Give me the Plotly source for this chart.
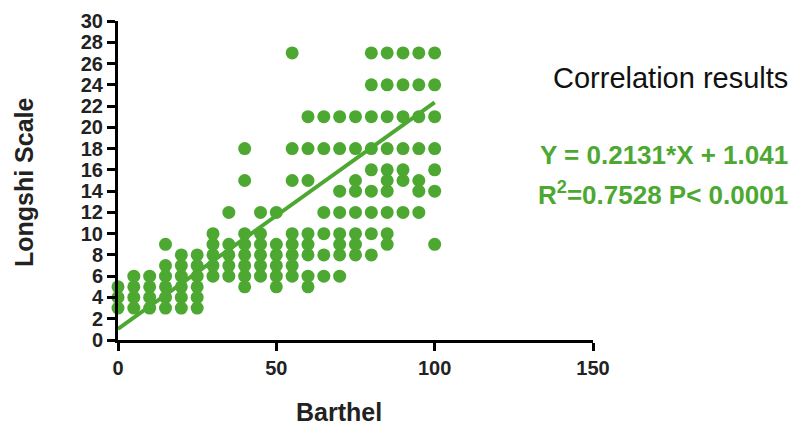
import plotly.graph_objects as go

# Barthel levels (x) and the Longshi Scale values observed at each level (y)
barthel_levels = [0, 5, 10, 15, 20, 25, 30, 35, 40, 45, 50,
                  55, 60, 65, 70, 75, 80, 85, 90, 95, 100]
longshi_by_level = [
    [3, 4, 5],
    [3, 4, 5, 6],
    [3, 4, 5, 6],
    [3, 4, 5, 6, 7, 9],
    [3, 4, 5, 6, 7, 8],
    [3, 4, 5, 6, 7, 8],
    [6, 7, 8, 9, 10],
    [6, 7, 8, 9, 12],
    [5, 6, 7, 8, 9, 10, 15, 18],
    [6, 7, 8, 9, 10, 12],
    [5, 6, 7, 8, 9, 12],
    [6, 7, 8, 9, 10, 15, 18, 27],
    [5, 6, 8, 9, 10, 15, 18, 21],
    [6, 8, 10, 12, 18, 21],
    [6, 8, 9, 10, 12, 14, 18, 21],
    [8, 9, 10, 12, 14, 15, 18, 21],
    [8, 10, 12, 14, 16, 18, 21, 24, 27],
    [9, 10, 12, 14, 15, 16, 18, 21, 24, 27],
    [12, 15, 16, 18, 21, 24, 27],
    [12, 14, 15, 18, 21, 24, 27],
    [9, 14, 16, 18, 21, 24, 27],
]

# regression results
slope = 0.2131
intercept = 1.041
r_squared = "0.7528"
p_text = "P< 0.0001"
fit_x = [0, 100]

x_ticks = [0, 50, 100, 150]
y_ticks = list(range(0, 31, 2))

barthel = []
longshi = []
for lvl, vals in zip(barthel_levels, longshi_by_level):
    for v in vals:
        barthel.append(lvl)
        longshi.append(v)

fit_y = [slope * x + intercept for x in fit_x]

GREEN = "#4DA832"
FONT = "Liberation Sans, Arial, sans-serif"

fig = go.Figure()
fig.add_trace(go.Scatter(
    x=barthel, y=longshi, mode="markers",
    marker=dict(color=GREEN, size=13, line=dict(width=0)),
    cliponaxis=False, showlegend=False,
))
fig.add_trace(go.Scatter(
    x=fit_x, y=fit_y, mode="lines",
    line=dict(color=GREEN, width=4),
    cliponaxis=False, showlegend=False,
))

axis_common = dict(
    showgrid=False, zeroline=False, showline=True, automargin=False,
    linecolor="black", linewidth=3,
    ticks="outside", ticklen=8, tickwidth=3, tickcolor="black",
    tickfont=dict(family=FONT, size=20, color="#222222", weight="bold"),
)
fig.update_xaxes(range=[0, 150], tickvals=x_ticks, **axis_common)
fig.update_yaxes(range=[0, 30], tickvals=y_ticks, **axis_common)

ann_common = dict(xref="paper", yref="paper", showarrow=False, yanchor="middle")
fig.add_annotation(text="<b>Barthel</b>", x=0.465, y=-0.225, xanchor="center",
                   font=dict(family=FONT, size=25, color="#222222"), **ann_common)
fig.add_annotation(text="<b>Longshi Scale</b>", x=-0.198, y=0.495, xanchor="center",
                   textangle=-90,
                   font=dict(family=FONT, size=25, color="#222222"), **ann_common)
fig.add_annotation(text="Correlation results", x=1.415, y=0.82, xanchor="right",
                   font=dict(family=FONT, size=29, color="#111111"), **ann_common)
fig.add_annotation(text=f"<b>Y = {slope}*X + {intercept}</b>", x=1.415, y=0.579,
                   xanchor="right",
                   font=dict(family=FONT, size=26, color=GREEN), **ann_common)
fig.add_annotation(text=f"<b>R<sup>2</sup>={r_squared} {p_text}</b>", x=1.415, y=0.46,
                   xanchor="right",
                   font=dict(family=FONT, size=26, color=GREEN), **ann_common)

# the page body adds an 8px offset; margins compensate so the plot area
# lands at the same place as in the reference
fig.update_layout(
    width=800, height=428,
    margin=dict(l=110, r=215, t=13, b=96),
    paper_bgcolor="white", plot_bgcolor="white",
)

fig.write_html("out.html")
